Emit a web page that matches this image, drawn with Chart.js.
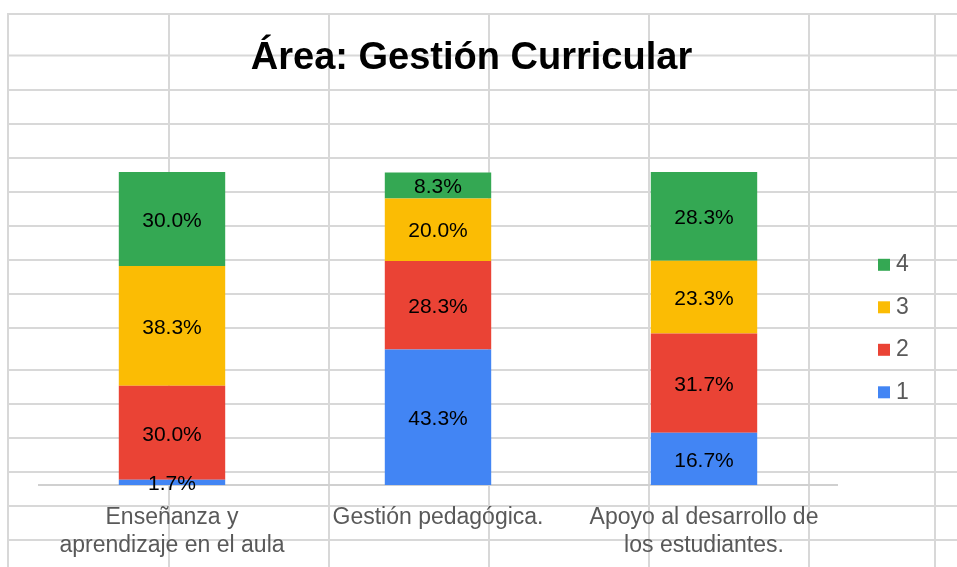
<!DOCTYPE html>
<html>
<head>
<meta charset="utf-8">
<script src="https://cdn.jsdelivr.net/npm/chart.js@4.4.1/dist/chart.umd.min.js"></script>
<style>
    body { margin: 0; background: #ffffff; }
    #wrap { width: 957px; height: 567px; position: relative; }
</style>
</head>
<body>
<div id="wrap"><canvas id="area-chart" width="957" height="567"></canvas></div>
<script>
const categories = [
    ['Enseñanza y', 'aprendizaje en el aula'],
    ['Gestión pedagógica.'],
    ['Apoyo al desarrollo de', 'los estudiantes.']
];
const seriesNames = ['1', '2', '3', '4'];
const level1 = [1.7, 43.3, 16.7];
const level2 = [30.0, 28.3, 31.7];
const level3 = [38.3, 20.0, 23.3];
const level4 = [30.0, 8.3, 28.3];

const colors = ['#4285f4', '#ea4335', '#fbbc04', '#34a853'];
const fontFamily = "'Liberation Sans', Arial, sans-serif";

// spreadsheet cells behind the chart
const sheetColumns = [8, 169, 329, 489, 649, 809, 935];
const sheetRows = [14, 55.5, 90, 124, 158, 192, 226, 260, 294, 328, 370, 404, 438, 472, 506, 540];

const sheetGrid = {
    id: 'sheetGrid',
    beforeDraw(chart) {
        const ctx = chart.ctx;
        ctx.save();
        ctx.strokeStyle = '#d8d8d8';
        ctx.lineWidth = 2;
        ctx.beginPath();
        sheetColumns.forEach(x => {
            ctx.moveTo(x, sheetRows[0] - 1);
            ctx.lineTo(x, chart.height);
        });
        sheetRows.forEach(y => {
            ctx.moveTo(sheetColumns[0] - 1, y);
            ctx.lineTo(chart.width, y);
        });
        ctx.stroke();
        ctx.restore();
    }
};

const legendPlacement = {
    id: 'legendPlacement',
    beforeInit(chart) {
        const originalFit = chart.legend.fit;
        chart.legend.fit = function () {
            originalFit.call(this);
            this.width = 79;
        };
    }
};

const segmentLabels = {
    id: 'segmentLabels',
    afterDatasetsDraw(chart) {
        const ctx = chart.ctx;
        ctx.save();
        ctx.font = `21px ${fontFamily}`;
        ctx.fillStyle = '#000000';
        ctx.textAlign = 'center';
        ctx.textBaseline = 'middle';
        chart.data.datasets.forEach((ds, i) => {
            const meta = chart.getDatasetMeta(i);
            meta.data.forEach((bar, j) => {
                const { x, y, base } = bar.getProps(['x', 'y', 'base'], true);
                ctx.fillText(ds.data[j].toFixed(1) + '%', x, (y + base) / 2 + 2);
            });
        });
        ctx.restore();
    }
};

const seriesValues = [level1, level2, level3, level4];

new Chart(document.getElementById('area-chart'), {
    type: 'bar',
    data: {
        labels: categories,
        datasets: seriesNames.map((name, i) => ({
            label: name,
            data: seriesValues[i],
            backgroundColor: colors[i],
            borderWidth: 0,
            barPercentage: 0.4,
            categoryPercentage: 1.0
        }))
    },
    options: {
        responsive: false,
        animation: false,
        layout: { padding: { left: 0, right: 14, top: 0, bottom: 9 } },
        plugins: {
            title: {
                display: true,
                text: 'Área: Gestión Curricular',
                color: '#000000',
                font: { family: fontFamily, size: 38, weight: 'bold' },
                padding: { top: 35.5, bottom: 91 }
            },
            legend: {
                position: 'right',
                fullSize: false,
                reverse: true,
                labels: {
                    color: '#595959',
                    font: { family: fontFamily, size: 23 },
                    usePointStyle: true,
                    pointStyle: 'rect',
                    boxWidth: 1,
                    boxHeight: 12,
                    padding: 19.5
                }
            },
            tooltip: { enabled: false }
        },
        scales: {
            x: {
                stacked: true,
                grid: { display: false, drawTicks: false },
                border: { display: true, color: '#d0d0d0', width: 2 },
                ticks: {
                    color: '#595959',
                    font: { family: fontFamily, size: 23, lineHeight: 1.22 },
                    padding: 19,
                    maxRotation: 0,
                    autoSkip: false
                },
                afterFit(scale) { scale.height = 73; }
            },
            y: {
                stacked: true,
                min: 0,
                max: 100,
                grid: { display: false, drawTicks: false },
                border: { display: false },
                ticks: { display: false },
                afterFit(scale) { scale.width = 39; }
            },
            yGap: {
                type: 'linear',
                position: 'right',
                grid: { display: false, drawTicks: false },
                border: { display: false },
                ticks: { display: false },
                afterFit(scale) { scale.width = 27; }
            }
        }
    },
    plugins: [sheetGrid, legendPlacement, segmentLabels]
});
</script>
</body>
</html>
